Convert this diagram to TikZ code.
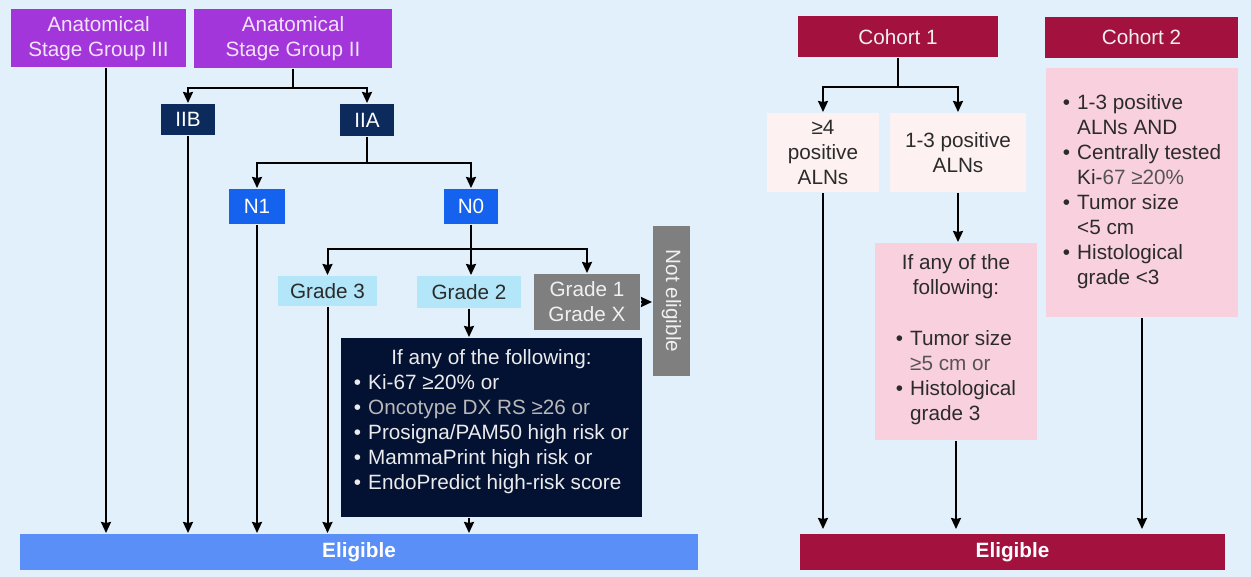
\documentclass[tikz,border=0pt]{standalone}
\usepackage{fontspec}
\setmainfont{Liberation Sans}
\usetikzlibrary{arrows.meta}

\definecolor{bgblue}{HTML}{E1F0FB}
\definecolor{stagepurple}{HTML}{A236DA}
\definecolor{stagetext}{HTML}{F3E2FA}
\definecolor{navy}{HTML}{0C2A5C}
\definecolor{nblue}{HTML}{1562EE}
\definecolor{gradecyan}{HTML}{B2E6F8}
\definecolor{gradegray}{HTML}{7F7F7F}
\definecolor{critnavy}{HTML}{031132}
\definecolor{eligblue}{HTML}{5B8FF8}
\definecolor{maroon}{HTML}{A3123F}
\definecolor{alnpink}{HTML}{FDF1F1}
\definecolor{critpink}{HTML}{F9D1DE}
\definecolor{darktext}{HTML}{2B2B2B}
\definecolor{softtext}{HTML}{B9B9B9}
\definecolor{midtext}{HTML}{555555}

\begin{document}
\begin{tikzpicture}[x=1pt,y=-1pt,font=\fontsize{20.7}{25}\selectfont,
    >={Stealth[length=11pt,width=10pt,inset=1pt]},line width=2pt,
    box/.style={inner sep=0pt,align=center},
    stagebox/.style={box,fill=stagepurple,text=stagetext},
    navybox/.style={box,fill=navy,text=white},
    nbox/.style={box,fill=nblue,text=white},
    gradebox/.style={box,fill=gradecyan,text=darktext},
    graybox/.style={box,fill=gradegray,text=white!94!black},
    critbox/.style={box,fill=critnavy,text=white!92!black},
    eligbox/.style={box,text=white,font=\fontsize{20.7}{25}\selectfont\bfseries},
    cohortbox/.style={box,fill=maroon,text=white!94!black},
    alnbox/.style={box,fill=alnpink,text=darktext},
    pinkbox/.style={box,fill=critpink,text=darktext}]

  \useasboundingbox (0,0) rectangle (1251,577);
  \fill[bgblue] (0,0) rectangle (1251,577);

  % left: staging tree
  \node[stagebox,minimum width=175,minimum height=58] (s3) at (98.5,38.5) {Anatomical\\Stage Group III};
  \node[stagebox,minimum width=198,minimum height=59] (s2) at (293,38.5) {Anatomical\\Stage Group II};
  \node[navybox,minimum width=54,minimum height=31] (iib) at (188,119.5) {IIB};
  \node[navybox,minimum width=54,minimum height=32] (iia) at (367,120) {IIA};
  \node[nbox,minimum width=56,minimum height=35] (n1) at (257,206.5) {N1};
  \node[nbox,minimum width=54,minimum height=35] (n0) at (471,206.5) {N0};
  \node[gradebox,minimum width=99,minimum height=30] (g3) at (327.5,291) {Grade 3};
  \node[gradebox,minimum width=104,minimum height=32] (g2) at (469,292) {Grade 2};
  \node[graybox,minimum width=106,minimum height=56] (g1) at (587,302) {Grade 1\\Grade X};
  \node[graybox,minimum width=37,minimum height=150] (ne) at (671.5,301) {\rotatebox{-90}{Not eligible}};
  \node[critbox,minimum width=301,minimum height=179] (crit) at (491.5,427.5) {If any of the following:\\
    \begin{tabular}[t]{@{}l@{\hspace{7pt}}l@{}}
      \textbullet & Ki-67 ≥20\% or\\
      \textbullet & \textcolor{softtext}{Oncotype DX RS ≥26 or}\\
      \textbullet & Prosigna/PAM50 high risk or\\
      \textbullet & MammaPrint high risk or\\
      \textbullet & EndoPredict high-risk score
    \end{tabular}\\[7pt]};
  \node[eligbox,fill=eligblue,minimum width=678,minimum height=36] (el1) at (359,552) {Eligible};

  \coordinate (s3out) at ([xshift=7.5pt]s3.south);
  \draw[->] (s3out) -- (s3out |- el1.north);
  \draw[->] (s2.south) -- ++(0,19) -| (iib.north);
  \draw[->] (s2.south) -- ++(0,19) -| (iia.north);
  \draw[->] (iib.south) -- (iib.south |- el1.north);
  \draw[->] (iia.south) -- ++(0,26) -| (n1.north);
  \draw[->] (iia.south) -- ++(0,26) -| (n0.north);
  \draw[->] (n1.south) -- (n1.south |- el1.north);
  \draw[->] (n0.south) -- ++(0,24) -| (g3.north);
  \draw[->] (n0.south) -- ++(0,24) -| (g1.north);
  \draw[->] (n0.south) -- (n0.south |- g2.north);
  \draw[->] (g3.south) -- (g3.south |- el1.north);
  \draw[->] (g2.south) -- (g2.south |- crit.north);
  \draw[->] (crit.south -| g2.south) -- (g2.south |- el1.north);
  \draw[->] (g1.east) -- (g1.east -| ne.west);

  % right: cohorts
  \node[cohortbox,minimum width=200,minimum height=41] (c1) at (898,37) {Cohort 1};
  \node[cohortbox,minimum width=193,minimum height=41] (c2) at (1141.5,37.5) {Cohort 2};
  \node[alnbox,minimum width=112,minimum height=79] (a4) at (823,152.5) {≥4\\positive\\ALNs};
  \node[alnbox,minimum width=136,minimum height=79] (a13) at (958,152.5) {1-3 positive\\ALNs};
  \node[pinkbox,minimum width=162,minimum height=197] (p1) at (956,341.5) {If any of the\\following:\\[26pt]
    \begin{tabular}[t]{@{}l@{\hspace{7pt}}l@{}}
      \textbullet & Tumor size\\
                  & \textcolor{midtext}{≥5 cm or}\\
      \textbullet & Histological\\
                  & grade 3
    \end{tabular}};
  \node[pinkbox,minimum width=192,minimum height=249] (p2) at (1142,192.5) {%
    \begin{tabular}{@{}l@{\hspace{7pt}}l@{}}
      \textbullet & 1-3 positive\\
                  & ALNs AND\\
      \textbullet & Centrally tested\\
                  & Ki-\textcolor{midtext}{67 ≥20\%}\\
      \textbullet & Tumor size\\
                  & <5 cm\\
      \textbullet & Histological\\
                  & grade <3
    \end{tabular}};
  \node[eligbox,fill=maroon,minimum width=425,minimum height=36] (el2) at (1012.5,552) {Eligible};

  \draw[->] (c1.south) -- ++(0,29) -| (a4.north);
  \draw[->] (c1.south) -- ++(0,29) -| (a13.north);
  \draw[->,shorten >=4pt] (a4.south) -- (a4.south |- el2.north);
  \draw[->] (a13.south) -- (a13.south |- p1.north);
  \draw[->,shorten >=4pt] (p1.south) -- (p1.south |- el2.north);
  \draw[->,shorten >=4pt] (p2.south) -- (p2.south |- el2.north);
\end{tikzpicture}
\end{document}
